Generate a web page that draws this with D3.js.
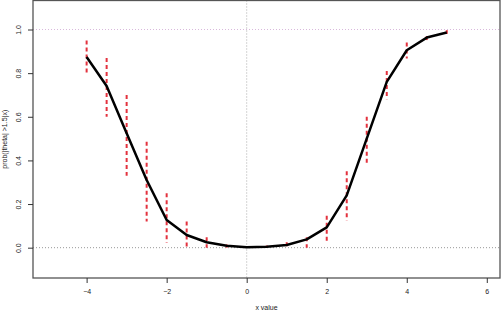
<!DOCTYPE html>
<html><head><meta charset="utf-8">
<script src="https://cdn.jsdelivr.net/npm/d3@7"></script>
<style>body{margin:0;background:#fff}svg{display:block;font-family:"Liberation Sans",Arial,sans-serif}</style>
</head><body><svg id="c" width="502" height="313"></svg>
<script>
const xs    = [-4,-3.5,-3,-2.5,-2,-1.5,-1,-0.5,0,0.5,1,1.5,2,2.5,3,3.5,4,4.5,5];
const prob  = [0.874,0.741,0.525,0.31,0.127,0.058,0.025,0.009,0.002,0.004,0.012,0.038,0.093,0.24,0.50,0.76,0.905,0.963,0.986];
const lower = [0.79,0.60,0.33,0.12,0.023,0,0,0,0,0,0,0,0.02,0.124,0.38,0.68,0.867,0.947,0.98];
const upper = [0.95,0.87,0.70,0.485,0.25,0.12,0.048,0.015,0.006,0.01,0.025,0.048,0.146,0.35,0.60,0.81,0.94,0.97,0.997];
const xTicks = [-4,-2,0,2,4,6];
const yTicks = [0,0.2,0.4,0.6,0.8,1.0];

const svg = d3.select("#c");
const L=33,R=500,T=0.5,B=278;
const x = d3.scaleLinear().domain([-5.34,6.33]).range([L,R]);
const y = d3.scaleLinear().domain([-0.139,1.133]).range([B,T]);

// reference lines
svg.append("line").attr("x1",L).attr("x2",R).attr("y1",y(1)).attr("y2",y(1))
  .attr("stroke","#d9b8dc").attr("stroke-width",1).attr("stroke-dasharray","1,2");
svg.append("line").attr("x1",L).attr("x2",R).attr("y1",y(0)).attr("y2",y(0))
  .attr("stroke","#999").attr("stroke-width",1).attr("stroke-dasharray","1,2");
svg.append("line").attr("x1",x(0)).attr("x2",x(0)).attr("y1",T).attr("y2",B)
  .attr("stroke","#aaa").attr("stroke-width",1).attr("stroke-dasharray","1,2");

// intervals
const data = xs.map((v,i)=>({x:v,p:prob[i],lo:lower[i],hi:upper[i]}));
svg.append("g").selectAll("line").data(data).join("line")
  .attr("x1",d=>x(d.x)).attr("x2",d=>x(d.x))
  .attr("y1",d=>y(d.hi)).attr("y2",d=>y(d.lo))
  .attr("stroke","#e3323e").attr("stroke-width",2).attr("stroke-dasharray","4,3");

// curve
svg.append("path").datum(data)
  .attr("d",d3.line().x(d=>x(d.x)).y(d=>y(d.p)))
  .attr("fill","none").attr("stroke","#000").attr("stroke-width",2.5).attr("stroke-linejoin","round");

// box
svg.append("rect").attr("x",L).attr("y",T).attr("width",R-L).attr("height",B-T)
  .attr("fill","none").attr("stroke","#555").attr("stroke-width",1.3);

// axes
const xa = svg.append("g").attr("transform",`translate(0,${B})`)
  .call(d3.axisBottom(x).tickValues(xTicks).tickSize(5).tickPadding(6).tickFormat(d3.format("d")));
xa.select(".domain").remove();
xa.selectAll("line").attr("stroke","#333");
xa.selectAll("text").attr("font-size",7).attr("fill","#222").attr("font-family","Liberation Sans, Arial, sans-serif");

const ya = svg.append("g").attr("transform",`translate(${L},0)`)
  .call(d3.axisLeft(y).tickValues(yTicks).tickSize(5).tickFormat(d3.format(".1f")));
ya.select(".domain").remove();
ya.selectAll("line").attr("stroke","#333");
ya.selectAll("text").attr("font-size",7).attr("fill","#222").attr("font-family","Liberation Sans, Arial, sans-serif")
  .attr("text-anchor","middle").attr("dy",null).attr("x",null)
  .attr("transform","translate(-12,0) rotate(-90)");

svg.append("text").attr("x",(L+R)/2).attr("y",310).attr("text-anchor","middle")
  .attr("font-size",7).attr("fill","#222").text("x value");
svg.append("text").attr("transform",`translate(7,${(T+B)/2}) rotate(-90)`).attr("text-anchor","middle")
  .attr("font-size",7).attr("fill","#222").text("prob(|theta| >1.5|x)");
</script></body></html>
